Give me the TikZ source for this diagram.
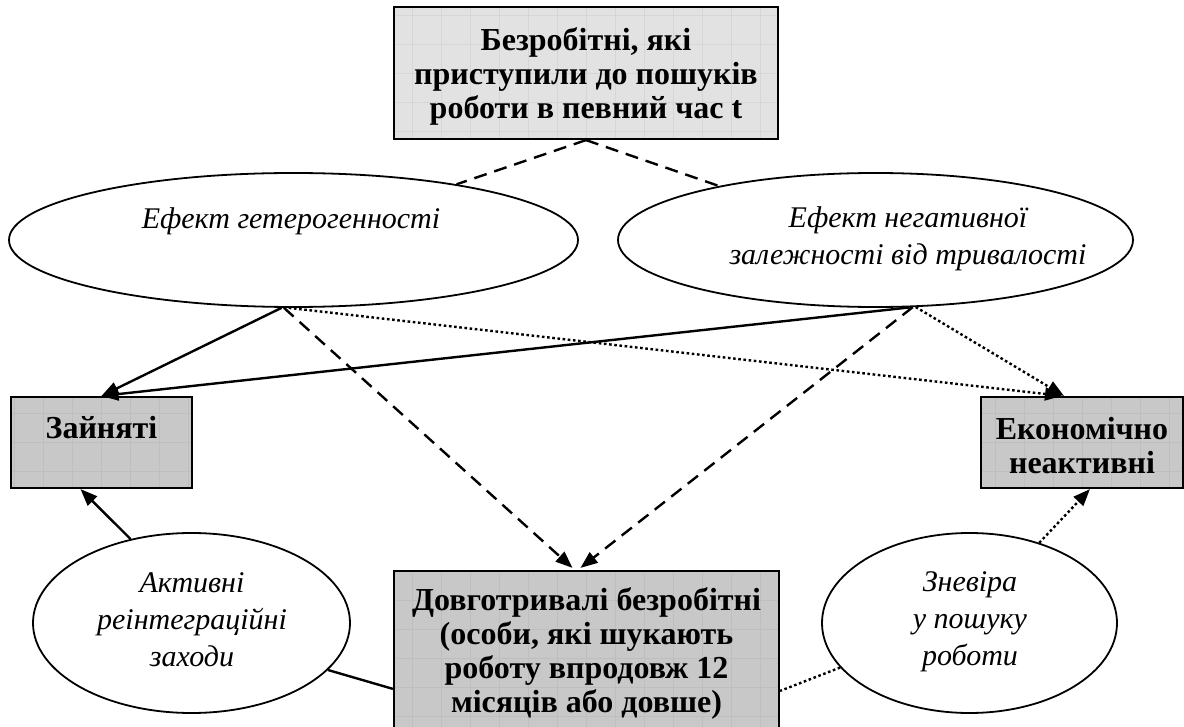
\documentclass[tikz,border=0pt]{standalone}
\usepackage{fontspec}
\setmainfont{Liberation Serif}
\usetikzlibrary{arrows.meta,shapes.geometric,calc}
\definecolor{boxlight}{HTML}{E2E2E2}
\definecolor{boxdark}{HTML}{C8C8C8}
\definecolor{gridlight}{HTML}{D6D6D6}
\definecolor{griddark}{HTML}{BEBEBE}
\begin{document}
\begin{tikzpicture}[x=1pt,y=-1pt,
  boxbase/.style={draw=black, line width=2.2pt, rectangle, inner sep=0pt},
  lightbox/.style={boxbase, fill=boxlight,
    path picture={\draw[gridlight, line width=0.6pt] (path picture bounding box.north west) grid[step=29pt] (path picture bounding box.south east);}},
  darkbox/.style={boxbase, fill=boxdark,
    path picture={\draw[griddark, line width=0.6pt] (path picture bounding box.north west) grid[step=29pt] (path picture bounding box.south east);}},
  oval/.style={draw=black, line width=1.8pt, ellipse, inner sep=0pt, fill=white},
  btxt/.style={align=center, inner sep=0pt, font={\bfseries\fontsize{32}{34}\selectfont}},
  itxt/.style={align=center, inner sep=0pt, font={\itshape\fontsize{30}{37}\selectfont}},
  conn/.style={line width=2.4pt},
  tip/.style={-{Triangle[length=17pt,width=13pt]}},
  dashedl/.style={conn, dash pattern=on 13pt off 8pt},
  dottedl/.style={conn, dash pattern=on 2.6pt off 2.6pt},
]
\useasboundingbox (0,0) rectangle (1184,727);

% boxes
\node[lightbox, minimum width=384pt, minimum height=132pt] (top) at (586,73) {};
\node[btxt] (toptxt) at (586,76) {Безробітні, які\\приступили до пошуків\\роботи в певний час t};

\node[darkbox, minimum width=181pt, minimum height=91pt] (z) at (101.5,442.5) {};
\node[btxt] (ztxt) at (101.5,428) {Зайняті};

\node[darkbox, minimum width=202pt, minimum height=91pt] (en) at (1082,442.5) {};
\node[btxt] (entxt) at (1082,446) {Економічно\\неактивні};

\node[darkbox, minimum width=385pt, minimum height=175pt] (bb) at (586.5,658.5) {};
\node[btxt] (bbtxt) at (586.5,653) {Довготривалі безробітні\\(особи, які шукають\\роботу впродовж 12\\місяців або довше)};

% ellipses
\node[oval, minimum width=569pt, minimum height=134pt] (el1) at (293.5,240) {};
\node[itxt] (t1) at (291,221) {Ефект гетерогенності};

\node[oval, minimum width=515pt, minimum height=134pt] (el2) at (875.5,240) {};
\node[itxt] (t2) at (908,239) {Ефект негативної\\залежності від тривалості};

\node[oval, minimum width=317pt, minimum height=180pt] (el3) at (191.5,623) {};
\node[itxt] (t3) at (192,620) {Активні\\реінтеграційні\\заходи};

\node[oval, minimum width=295pt, minimum height=180pt] (el4) at (969.5,623) {};
\node[itxt] (t4) at (970,622) {Зневіра\\у пошуку\\роботи};

% connectors top
\draw[dashedl] (top.south) -- (el1);
\draw[dashedl] (top.south) -- (el2);

% from left ellipse
\draw[conn, tip] (el1.260) -- (z.north);
\draw[dashedl, tip] (el1.262) -- ($(bb.north)+(-14,-2)$);
\draw[dottedl, tip] (el1.266) -- ($(en.north)+(-20,0)$);

% from right ellipse
\draw[conn, tip] (el2.298) -- (z.north);
\draw[dashedl, tip] (el2.299) -- ($(bb.north)+(-6,-2)$);
\draw[dottedl, tip] (el2.301) -- ($(en.north)+(-18,0)$);

% bottom ellipses
\draw[conn, tip] (el3.126) -- ($(z.south)+(-21,0)$);
\draw[conn] (el3.-19) -- ($(bb.north west)+(0,119)$);
\draw[dottedl, tip] (el4.49) -- ($(en.south)+(8,0)$);
\draw[dottedl] (el4.199.6) -- ($(bb.north east)+(0,121)$);
\end{tikzpicture}
\end{document}
